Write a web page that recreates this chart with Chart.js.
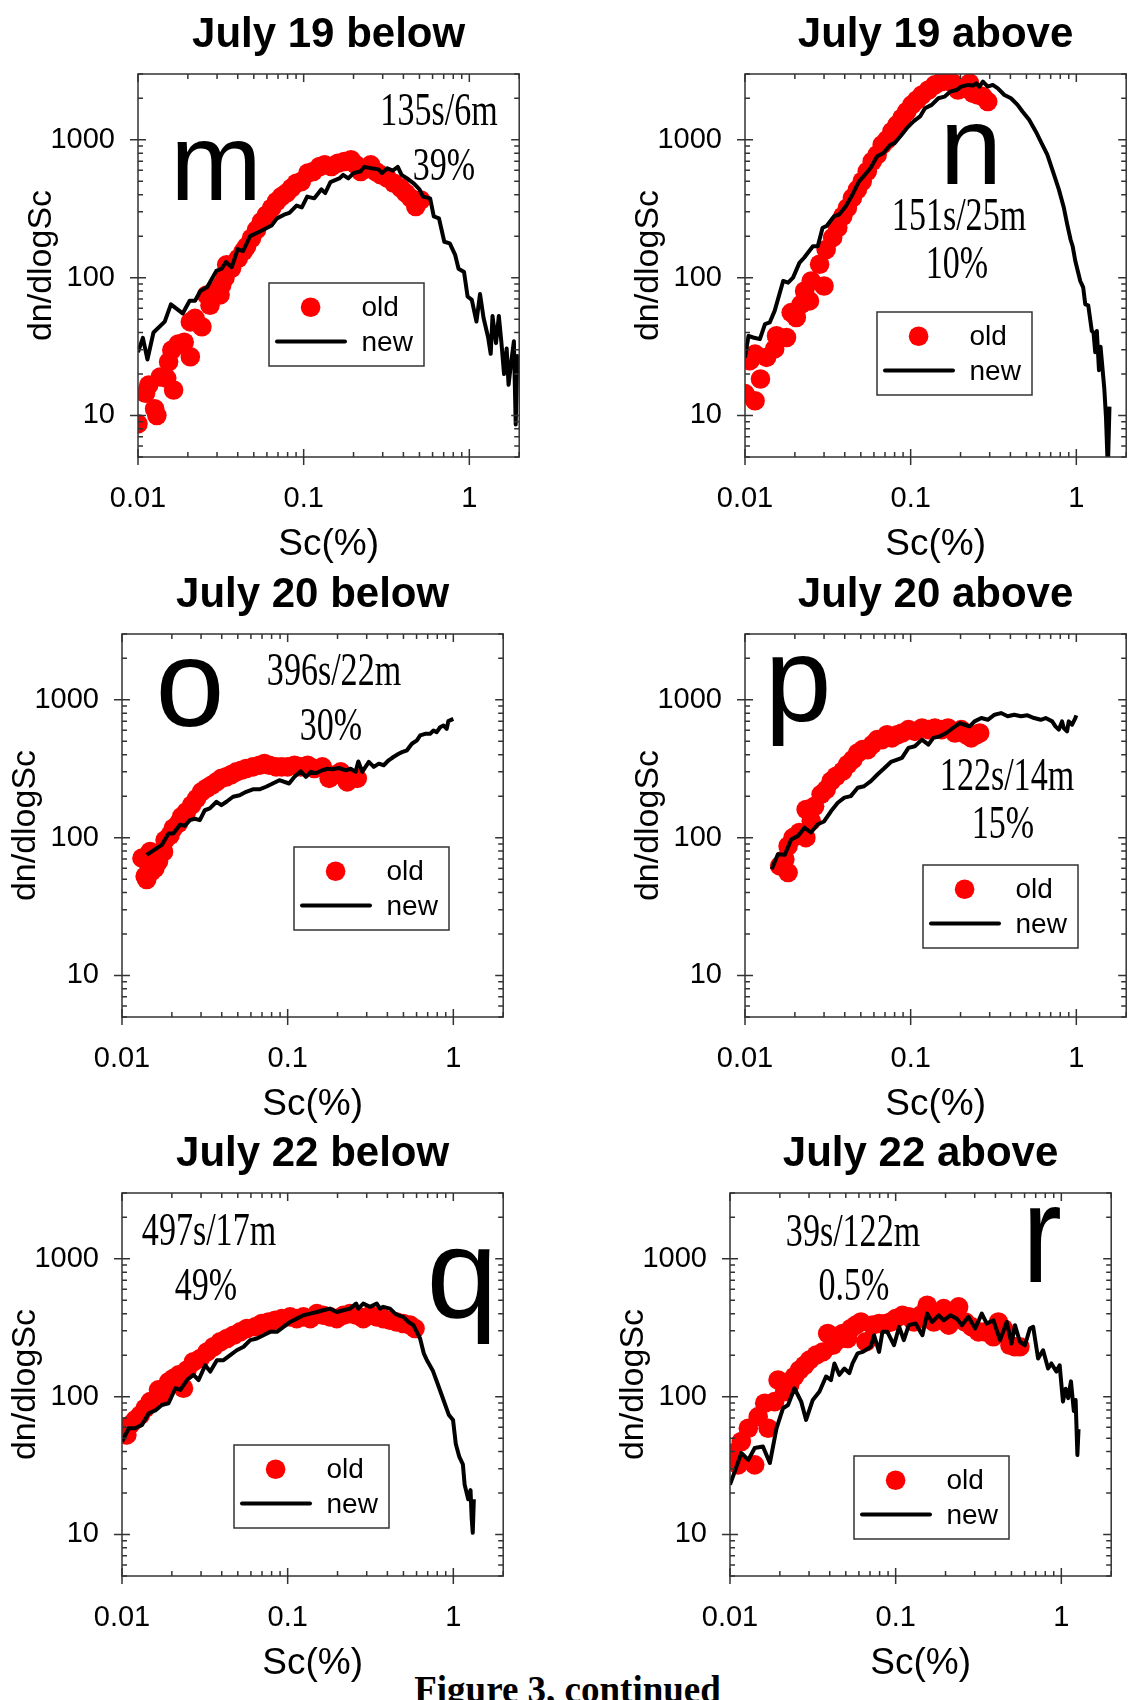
<!DOCTYPE html>
<html>
<head>
<meta charset="utf-8">
<title>dn/dlogSc comparison</title>
<script src="https://cdn.jsdelivr.net/npm/chart.js@4.4.1/dist/chart.umd.min.js"></script>
<style>
  body { margin: 0; background: #fff; }
  #page { position: relative; width: 1135px; height: 1700px; overflow: hidden; background: #fff; }
  #page canvas { position: absolute; }
  #caption {
    position: absolute; left: 0; top: 1671px; width: 1135px; text-align: center;
    font: bold 37px/37px 'Liberation Serif', 'Times New Roman', Times, serif; color: #000;
  }
</style>
</head>
<body>
<div id="page">
  <div id="caption">Figure 3, continued</div>
</div>
<script>
// axis ticks (log-log, both axes)
const xTickValues = [0.01, 0.1, 1];
const xTickLabels = ['0.01', '0.1', '1'];
const yTickValues = [10, 100, 1000];
const yTickLabels = ['10', '100', '1000'];

// m: July 19 below
const scOldM = [0.01, 0.0111, 0.0116, 0.0126, 0.013, 0.0136, 0.0149, 0.0164, 0.0153, 0.016, 0.0175, 0.019, 0.0207, 0.0207, 0.0221, 0.0243, 0.026, 0.0272, 0.0285, 0.0313, 0.032, 0.0335, 0.0343, 0.0367, 0.0403, 0.0432, 0.0452, 0.0484, 0.0519, 0.0556, 0.0596, 0.064, 0.0686, 0.0734, 0.0787, 0.0843, 0.0904, 0.0968, 0.106, 0.114, 0.125, 0.134, 0.147, 0.161, 0.176, 0.193, 0.207, 0.221, 0.237, 0.254, 0.272, 0.292, 0.32, 0.351, 0.386, 0.414, 0.444, 0.475, 0.509];
const nOldM = [8.7, 14.5, 16.6, 11.2, 10, 19, 18.6, 15.3, 24.5, 29.8, 33, 34, 26.7, 47.8, 50.6, 44, 74.8, 63, 79, 75, 88.5, 100, 124, 117, 138, 155, 168, 193, 222, 255, 285, 319, 357, 387, 410, 446, 484, 498, 573, 589, 640, 658, 640, 676, 696, 716, 658, 589, 622, 658, 589, 557, 527, 484, 446, 410, 377, 328, 366];
const scNewM = [0.0100, 0.0107, 0.0114, 0.0124, 0.0145, 0.0158, 0.0186, 0.0205, 0.0221, 0.0238, 0.0262, 0.0297, 0.032, 0.034, 0.0368, 0.040, 0.0431, 0.0475, 0.0552, 0.064, 0.069, 0.0762, 0.082, 0.0906, 0.0975, 0.105, 0.116, 0.128, 0.135, 0.145, 0.164, 0.173, 0.186, 0.2, 0.221, 0.232, 0.256, 0.283, 0.297, 0.32, 0.345, 0.37, 0.39, 0.421, 0.465, 0.5, 0.525, 0.58, 0.61, 0.656, 0.706, 0.762, 0.82, 0.861, 0.929, 0.976, 1.035, 1.104, 1.16, 1.219, 1.30, 1.346, 1.38, 1.449, 1.507, 1.563, 1.62, 1.68, 1.725, 1.786, 1.858, 1.905, 1.95, 1.97];
const nNewM = [28.8, 36.6, 25.5, 40, 48, 64, 55, 68, 68, 80, 85.5, 112, 116, 130, 119, 161, 156, 200, 218, 239, 269, 286, 295, 333, 323, 387, 376, 437, 411, 493, 524, 556, 524, 573, 591, 636, 621, 610, 573, 621, 598, 636, 556, 524, 479, 437, 387, 376, 278, 269, 182, 177, 147, 116, 110, 73, 69, 48, 76, 51, 36.6, 28, 52.7, 33.5, 52.7, 33.5, 20, 30.6, 16.7, 24, 34.5, 8.6, 27, 20];

// n: July 19 above
const scOldN = [0.01, 0.0115, 0.0107, 0.0115, 0.0124, 0.0135, 0.0151, 0.0155, 0.0178, 0.019, 0.0204, 0.0218, 0.0229, 0.0245, 0.0251, 0.0282, 0.030, 0.0309, 0.0338, 0.0363, 0.0389, 0.0415, 0.0445, 0.0477, 0.051, 0.0547, 0.0586, 0.0628, 0.0673, 0.072, 0.0771, 0.0826, 0.0885, 0.0948, 0.1016, 0.109, 0.117, 0.128, 0.14, 0.154, 0.168, 0.18, 0.193, 0.212, 0.227, 0.238, 0.255, 0.273, 0.292];
const nOldN = [14.4, 12.8, 25, 27.9, 18.4, 26.4, 30.4, 37.9, 36.8, 55.8, 51.4, 64, 80, 67.8, 94.6, 125, 87, 160, 195, 230, 279, 321, 379, 435, 500, 590, 697, 779, 920, 1000, 1149, 1283, 1435, 1604, 1791, 1945, 2113, 2296, 2500, 2644, 2718, 2570, 2296, 2361, 2570, 2172, 2113, 2055, 1893];
const scNewN = [0.01, 0.0105, 0.0112, 0.0123, 0.0132, 0.0141, 0.0151, 0.017, 0.0182, 0.0195, 0.0213, 0.0228, 0.0257, 0.0275, 0.0294, 0.031, 0.0345, 0.037, 0.0406, 0.0445, 0.0488, 0.052, 0.0573, 0.0628, 0.0686, 0.0754, 0.080, 0.0865, 0.0948, 0.104, 0.114, 0.122, 0.134, 0.147, 0.16, 0.173, 0.189, 0.202, 0.222, 0.238, 0.249, 0.26, 0.273, 0.292, 0.313, 0.336, 0.368, 0.403, 0.442, 0.473, 0.519, 0.569, 0.624, 0.668, 0.733, 0.785, 0.841, 0.881, 0.923, 0.95, 0.986, 1.056, 1.10, 1.132, 1.18, 1.24, 1.27, 1.30, 1.33, 1.37, 1.40, 1.475, 1.51, 1.55, 1.585];
const nNewN = [26.4, 37.8, 36.8, 35.8, 46, 47.3, 57.4, 94.6, 92, 100, 128, 140, 169, 169, 230, 236, 279, 287, 330, 400, 500, 543, 624, 759, 801, 920, 946, 1057, 1214, 1358, 1476, 1694, 1791, 2000, 2055, 2233, 2296, 2431, 2500, 2472, 2570, 2431, 2644, 2431, 2500, 2361, 2113, 2000, 1791, 1604, 1396, 1149, 920, 779, 559, 435, 321, 243, 189, 169, 132, 94.6, 85, 64, 63, 41, 40, 28.8, 41, 21.3, 31.5, 15.7, 9.7, 4, 11.6];

// o: July 20 below
const scOldO = [0.0132, 0.0138, 0.0141, 0.0145, 0.0148, 0.0151, 0.0158, 0.0166, 0.0178, 0.0182, 0.0195, 0.0204, 0.0219, 0.0229, 0.0245, 0.0263, 0.0282, 0.0302, 0.0324, 0.0347, 0.0372, 0.0398, 0.0427, 0.0457, 0.049, 0.0525, 0.0562, 0.0617, 0.0676, 0.0724, 0.0776, 0.0851, 0.092, 0.1, 0.11, 0.12, 0.132, 0.145, 0.162, 0.178, 0.191, 0.209, 0.229, 0.245, 0.263];
const nOldO = [71, 52.5, 49.7, 63.7, 79.4, 57, 60, 67, 79, 96, 104, 117, 127, 142, 154, 172, 192, 215, 228, 240, 254, 269, 276, 287, 300, 308, 317, 326, 335, 344, 335, 326, 326, 326, 335, 326, 335, 317, 326, 269, 284, 300, 254, 269, 269];
const scNewO = [0.0141, 0.0174, 0.0191, 0.0204, 0.0224, 0.024, 0.0257, 0.0275, 0.0295, 0.0316, 0.0339, 0.0372, 0.0398, 0.0427, 0.0468, 0.0513, 0.0562, 0.0617, 0.0676, 0.0741, 0.0813, 0.0891, 0.102, 0.11, 0.12, 0.129, 0.138, 0.148, 0.162, 0.174, 0.186, 0.204, 0.224, 0.24, 0.257, 0.267, 0.282, 0.309, 0.331, 0.355, 0.38, 0.407, 0.437, 0.468, 0.49, 0.525, 0.562, 0.603, 0.631, 0.676, 0.724, 0.759, 0.794, 0.832, 0.871, 0.912, 0.933, 1.0];
const nNewO = [75, 88.6, 107, 107, 124, 122, 134, 137, 134, 158, 163, 182, 172, 182, 198, 203, 215, 224, 224, 234, 247, 261, 247, 276, 303, 276, 300, 294, 308, 316, 313, 320, 308, 316, 300, 357, 300, 354, 326, 344, 335, 364, 386, 406, 417, 430, 480, 508, 551, 566, 566, 599, 582, 632, 651, 615, 700, 726];

// p: July 20 above
const scOldP = [0.0162, 0.0182, 0.0174, 0.0182, 0.0195, 0.0213, 0.0233, 0.0234, 0.0251, 0.0263, 0.0288, 0.0309, 0.0331, 0.0355, 0.0389, 0.0417, 0.0447, 0.0479, 0.0513, 0.055, 0.0587, 0.0629, 0.0673, 0.072, 0.077, 0.083, 0.0886, 0.097, 0.106, 0.117, 0.128, 0.14, 0.154, 0.168, 0.185, 0.202, 0.217, 0.232, 0.249, 0.261];
const nOldP = [62.4, 55.8, 69.7, 87, 100, 109, 100, 160, 132, 169, 206, 223, 257, 279, 304, 339, 368, 411, 435, 435, 473, 514, 514, 558, 529, 558, 574, 607, 590, 624, 607, 624, 607, 624, 574, 607, 558, 529, 558, 574];
const scNewP = [0.0145, 0.0158, 0.0174, 0.019, 0.0209, 0.0229, 0.025, 0.0275, 0.030, 0.0331, 0.0363, 0.0398, 0.0435, 0.0479, 0.0523, 0.0575, 0.063, 0.069, 0.076, 0.083, 0.0886, 0.097, 0.106, 0.117, 0.128, 0.137, 0.15, 0.164, 0.18, 0.198, 0.212, 0.227, 0.243, 0.267, 0.292, 0.321, 0.351, 0.385, 0.422, 0.463, 0.507, 0.556, 0.61, 0.653, 0.715, 0.748, 0.784, 0.82, 0.84, 0.879, 0.9, 0.943, 0.986, 1.0];
const nNewP = [59, 75.8, 75, 97, 103, 118, 109, 125, 131, 156, 179, 195, 200, 230, 236, 257, 287, 317, 354, 368, 379, 448, 460, 514, 473, 529, 543, 574, 624, 678, 659, 641, 697, 737, 716, 779, 801, 759, 779, 759, 771, 737, 716, 737, 697, 641, 607, 697, 624, 590, 697, 659, 737, 771];

// q: July 22 below
const scOldQ = [0.01, 0.0107, 0.0112, 0.012, 0.0129, 0.0138, 0.0148, 0.0166, 0.0178, 0.0191, 0.0205, 0.022, 0.0235, 0.0247, 0.027, 0.0297, 0.0326, 0.0357, 0.0392, 0.043, 0.0471, 0.0517, 0.0567, 0.0637, 0.0698, 0.0766, 0.0841, 0.0922, 0.1035, 0.1135, 0.1245, 0.137, 0.15, 0.164, 0.18, 0.198, 0.217, 0.238, 0.261, 0.286, 0.314, 0.345, 0.378, 0.415, 0.455, 0.499, 0.548, 0.587];
const nOldQ = [57.4, 52.8, 62.4, 67.8, 73.6, 82.4, 92, 112, 103, 128, 136, 144, 115, 156, 179, 189, 211, 230, 250, 264, 279, 295, 312, 321, 339, 348, 358, 368, 379, 368, 379, 368, 400, 389, 379, 368, 389, 400, 389, 368, 389, 379, 368, 358, 348, 339, 330, 312];
const scNewQ = [0.01, 0.011, 0.012, 0.0132, 0.0145, 0.0159, 0.0174, 0.0191, 0.021, 0.0225, 0.0247, 0.027, 0.029, 0.0318, 0.0341, 0.0374, 0.041, 0.045, 0.0493, 0.0542, 0.0594, 0.0652, 0.0714, 0.0783, 0.0861, 0.0944, 0.1035, 0.1135, 0.1245, 0.137, 0.15, 0.164, 0.18, 0.198, 0.217, 0.238, 0.259, 0.267, 0.286, 0.314, 0.345, 0.361, 0.378, 0.415, 0.445, 0.466, 0.499, 0.536, 0.574, 0.63, 0.664, 0.697, 0.751, 0.81, 0.871, 0.938, 0.996, 1.035, 1.087, 1.142, 1.17, 1.23, 1.27, 1.29, 1.31, 1.33];
const nNewQ = [47.3, 59, 59, 62.4, 75.8, 79.4, 87, 89.5, 115, 112, 132, 144, 132, 169, 152, 184, 184, 200, 217, 230, 257, 264, 279, 295, 295, 321, 348, 368, 389, 400, 411, 423, 435, 411, 423, 435, 473, 435, 473, 448, 473, 435, 448, 435, 400, 389, 379, 348, 330, 264, 205, 181, 155, 121, 95, 74, 67.6, 45.3, 36.5, 32.3, 23, 18, 21, 13.2, 10.3, 18];

// r: July 22 above
const scOldR = [0.0102, 0.0112, 0.0117, 0.0129, 0.0141, 0.0148, 0.0162, 0.017, 0.0186, 0.0195, 0.0214, 0.0229, 0.0245, 0.0263, 0.0282, 0.0302, 0.0331, 0.0363, 0.0389, 0.0417, 0.0447, 0.0479, 0.0513, 0.0537, 0.0575, 0.0617, 0.0661, 0.0724, 0.0794, 0.0871, 0.0933, 0.1, 0.11, 0.12, 0.129, 0.141, 0.155, 0.17, 0.186, 0.195, 0.209, 0.224, 0.24, 0.263, 0.288, 0.316, 0.347, 0.389, 0.417, 0.447, 0.49, 0.525, 0.562];
const nOldR = [38.9, 32, 47.3, 59, 32, 71.6, 89.5, 59, 92, 132, 109, 121, 140, 156, 169, 184, 200, 211, 287, 236, 257, 287, 264, 312, 330, 348, 250, 330, 339, 339, 348, 368, 389, 379, 348, 389, 460, 348, 411, 435, 330, 400, 448, 348, 321, 295, 295, 272, 348, 312, 236, 230, 230];
const scNewR = [0.01, 0.0107, 0.0117, 0.0129, 0.0141, 0.0158, 0.0174, 0.0191, 0.0209, 0.0224, 0.0245, 0.0269, 0.0288, 0.0316, 0.0347, 0.038, 0.0407, 0.0427, 0.0457, 0.049, 0.0525, 0.0549, 0.0589, 0.0631, 0.0708, 0.0741, 0.0794, 0.0832, 0.0891, 0.0977, 0.105, 0.112, 0.12, 0.132, 0.145, 0.155, 0.166, 0.182, 0.195, 0.214, 0.234, 0.251, 0.275, 0.302, 0.331, 0.355, 0.389, 0.427, 0.468, 0.501, 0.525, 0.562, 0.603, 0.646, 0.676, 0.724, 0.776, 0.832, 0.871, 0.933, 0.977, 1.023, 1.062, 1.10, 1.143, 1.19, 1.22, 1.25, 1.27];
const nNewR = [23, 28.7, 39, 34.8, 42.4, 43.5, 33, 59, 82.4, 87, 115, 92, 67.8, 94.6, 109, 140, 132, 174, 144, 160, 148, 174, 206, 211, 230, 279, 211, 295, 295, 236, 321, 257, 330, 339, 279, 400, 348, 389, 358, 389, 368, 330, 379, 312, 400, 339, 358, 257, 348, 243, 330, 250, 236, 312, 321, 189, 217, 160, 174, 152, 169, 92, 114, 97.6, 129, 78.7, 94.6, 37.7, 58];

const SANS = "'Liberation Sans', Arial, Helvetica, sans-serif";
const SERIF = "'Liberation Serif', 'Times New Roman', Times, serif";

// plot box 383x383 at (left, top) on the page; other offsets are relative to the box
const panels = [
  { title: 'July 19 below', left: 138, top: 74, letter: ['m', 78, 126, 110, 1], notes: [['135s/6m', 301, 51], ['39%', 306, 106]], legend: [131, 209],
    oldSc: scOldM, oldN: nOldM, newSc: scNewM, newN: nNewM },
  { title: 'July 19 above', left: 745, top: 74, letter: ['n', 226, 110, 112, 1], notes: [['151s/25m', 214, 156], ['10%', 212, 204]], legend: [132, 238],
    oldSc: scOldN, oldN: nOldN, newSc: scNewN, newN: nNewN },
  { title: 'July 20 below', left: 122, top: 634, letter: ['o', 68, 92, 124, 1], notes: [['396s/22m', 212, 51], ['30%', 209, 106]], legend: [172, 213],
    oldSc: scOldO, oldN: nOldO, newSc: scNewO, newN: nNewO },
  { title: 'July 20 above', left: 745, top: 634, letter: ['p', 53, 87, 120, 1], notes: [['122s/14m', 262, 156], ['15%', 258, 204]], legend: [178, 231],
    oldSc: scOldP, oldN: nOldP, newSc: scNewP, newN: nNewP },
  { title: 'July 22 below', left: 122, top: 1193, letter: ['q', 340, 124, 128, 1], notes: [['497s/17m', 87, 52], ['49%', 84, 107]], legend: [112, 252],
    oldSc: scOldQ, oldN: nOldQ, newSc: scNewQ, newN: nNewQ },
  { title: 'July 22 above', left: 730, top: 1193, letter: ['r', 312, 89, 140, 0.85], notes: [['39s/122m', 123, 53], ['0.5%', 124, 107]], legend: [124, 263],
    oldSc: scOldR, oldN: nOldR, newSc: scNewR, newN: nNewR }
];

const AXIS_W = 137, TOP_PAD = 74, X_AXIS_H = 110, RIGHT_PAD = 8, BOX = 383;

function logTicks(min, max, majors) {
  const out = [];
  for (let e = Math.floor(Math.log10(min)); e <= Math.ceil(Math.log10(max)); e++) {
    for (let k = 1; k < 10; k++) {
      const v = +(k * Math.pow(10, e)).toPrecision(6);
      if (v >= min * 0.9999 && v <= max * 1.0001) {
        out.push({ value: v, major: majors.some(m => Math.abs(m - v) < m * 1e-6) });
      }
    }
  }
  return out;
}

function tickLabel(values, labels) {
  return v => {
    const i = values.findIndex(m => Math.abs(m - v) < m * 1e-6);
    return i < 0 ? '' : labels[i];
  };
}

function decorations(p) {
  return {
    id: 'decorations',
    afterDraw(chart) {
      const ctx = chart.ctx;
      const { left, right, top, bottom } = chart.chartArea;
      const xs = chart.scales.x, ys = chart.scales.y;
      ctx.save();

      // frame and tick marks
      ctx.strokeStyle = '#333';
      ctx.lineWidth = 1.5;
      ctx.strokeRect(left, top, right - left, bottom - top);
      ctx.beginPath();
      xs.ticks.forEach(t => {
        const px = xs.getPixelForValue(t.value);
        const len = t.major ? 8 : 5;
        ctx.moveTo(px, bottom + (t.major ? 8 : 0)); ctx.lineTo(px, bottom - len);
        ctx.moveTo(px, top); ctx.lineTo(px, top + len);
      });
      ys.ticks.forEach(t => {
        const py = ys.getPixelForValue(t.value);
        const len = t.major ? 8 : 5;
        ctx.moveTo(left - (t.major ? 8 : 0), py); ctx.lineTo(left + len, py);
        ctx.moveTo(right, py); ctx.lineTo(right - len, py);
      });
      ctx.stroke();

      ctx.fillStyle = '#000';
      // panel title
      ctx.font = 'bold 42px ' + SANS;
      ctx.textAlign = 'center';
      ctx.textBaseline = 'alphabetic';
      ctx.fillText(p.title, (left + right) / 2, top - 27);

      // axis titles
      ctx.textBaseline = 'middle';
      ctx.font = '37px ' + SANS;
      ctx.fillText('Sc(%)', (left + right) / 2, bottom + 88);
      ctx.save();
      ctx.translate(left - 96.5, (top + bottom) / 2);
      ctx.rotate(-Math.PI / 2);
      ctx.font = '34px ' + SANS;
      ctx.fillText('dn/dlogSc', 0, 0);
      ctx.restore();

      // panel letter
      const [ch, lx, ly, size, sx] = p.letter;
      ctx.save();
      ctx.translate(left + lx, top + ly);
      ctx.scale(sx, 1);
      ctx.textBaseline = 'alphabetic';
      ctx.font = size + 'px ' + SANS;
      ctx.fillText(ch, 0, 0);
      ctx.restore();

      // sampling notes, narrow serif
      p.notes.forEach(([txt, nx, ny]) => {
        ctx.save();
        ctx.translate(left + nx, top + ny);
        ctx.scale(0.74, 1);
        ctx.textBaseline = 'alphabetic';
        ctx.font = '46px ' + SERIF;
        ctx.fillText(txt, 0, 0);
        ctx.restore();
      });

      // legend box
      const [ox, oy] = p.legend;
      const bx = left + ox, by = top + oy;
      const dsOld = chart.data.datasets[0], dsNew = chart.data.datasets[1];
      ctx.strokeStyle = '#333';
      ctx.lineWidth = 1.5;
      ctx.strokeRect(bx, by, 155, 83);
      ctx.fillStyle = dsOld.backgroundColor;
      ctx.beginPath();
      ctx.arc(bx + 41.6, by + 24.2, dsOld.pointRadius, 0, Math.PI * 2);
      ctx.fill();
      ctx.strokeStyle = dsNew.borderColor;
      ctx.lineWidth = dsNew.borderWidth;
      ctx.lineCap = 'round';
      ctx.beginPath();
      ctx.moveTo(bx + 8, by + 58.4);
      ctx.lineTo(bx + 76, by + 58.4);
      ctx.stroke();
      ctx.fillStyle = '#000';
      ctx.font = '28px ' + SANS;
      ctx.textAlign = 'left';
      ctx.textBaseline = 'alphabetic';
      ctx.fillText(dsOld.label, bx + 92.5, by + 33.4);
      ctx.fillText(dsNew.label, bx + 92.5, by + 68.4);

      ctx.restore();
    }
  };
}

const page = document.getElementById('page');

panels.forEach(p => {
  const canvas = document.createElement('canvas');
  canvas.width = AXIS_W + BOX + RIGHT_PAD;
  canvas.height = TOP_PAD + BOX + X_AXIS_H;
  canvas.style.left = (p.left - AXIS_W) + 'px';
  canvas.style.top = (p.top - TOP_PAD) + 'px';
  page.appendChild(canvas);

  new Chart(canvas.getContext('2d'), {
    type: 'scatter',
    data: {
      datasets: [
        {
          label: 'old',
          data: p.oldSc.map((v, i) => ({ x: v, y: p.oldN[i] })),
          backgroundColor: '#ff0000',
          borderWidth: 0,
          pointRadius: 9.8,
          order: 1
        },
        {
          label: 'new',
          data: p.newSc.map((v, i) => ({ x: v, y: p.newN[i] })),
          showLine: true,
          borderColor: '#000',
          borderWidth: 4,
          borderJoinStyle: 'round',
          pointRadius: 0,
          fill: false,
          tension: 0,
          order: 0
        }
      ]
    },
    options: {
      responsive: false,
      animation: false,
      events: [],
      layout: { padding: { top: TOP_PAD, right: RIGHT_PAD, bottom: 0, left: 0 } },
      plugins: { legend: { display: false }, tooltip: { enabled: false } },
      scales: {
        x: {
          type: 'logarithmic',
          min: 0.01,
          max: 2,
          grid: { display: false, drawTicks: false },
          border: { display: false },
          afterBuildTicks: s => { s.ticks = logTicks(s.min, s.max, xTickValues); },
          afterFit: s => { s.height = X_AXIS_H; s.paddingLeft = 0; s.paddingRight = 0; },
          ticks: {
            autoSkip: false, maxRotation: 0, padding: 25, color: '#000',
            font: { family: SANS, size: 29 },
            callback: tickLabel(xTickValues, xTickLabels)
          }
        },
        y: {
          type: 'logarithmic',
          min: 5,
          max: 3000,
          grid: { display: false, drawTicks: false },
          border: { display: false },
          afterBuildTicks: s => { s.ticks = logTicks(s.min, s.max, yTickValues); },
          afterFit: s => { s.width = AXIS_W; s.paddingTop = 0; s.paddingBottom = 0; },
          ticks: {
            autoSkip: false, padding: 23, color: '#000',
            font: { family: SANS, size: 29 },
            callback: tickLabel(yTickValues, yTickLabels)
          }
        }
      }
    },
    plugins: [decorations(p)]
  });
});
</script>
</body>
</html>
